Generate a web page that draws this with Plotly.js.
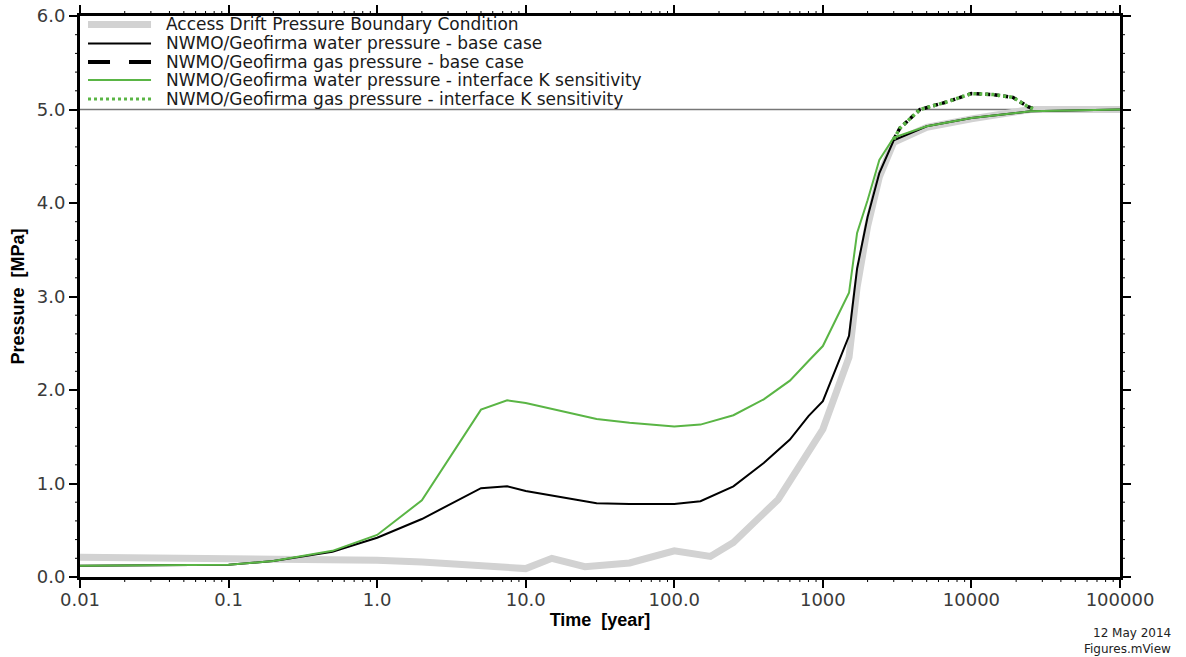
<!DOCTYPE html>
<html>
<head>
<meta charset="utf-8">
<script src="https://cdn.plot.ly/plotly-3.0.1.min.js"></script>
<style>html,body{margin:0;padding:0;background:#fff;}#chart{width:1186px;height:657px;}</style>
</head>
<body>
<div id="chart"></div>
<script>
// ---- data ----
var seriesNames = [
  "Access Drift Pressure Boundary Condition",
  "NWMO/Geofirma water pressure - base case",
  "NWMO/Geofirma gas pressure - base case",
  "NWMO/Geofirma water pressure - interface K sensitivity",
  "NWMO/Geofirma gas pressure - interface K sensitivity"
];
var tBoundary = [0.01, 0.1, 1, 2, 5, 10, 15, 25, 50, 100, 175, 250, 500, 1000, 1500, 1700, 2000, 2400, 3000, 5000, 10000, 25000, 100000];
var pBoundary = [0.21, 0.20, 0.18, 0.16, 0.12, 0.09, 0.20, 0.11, 0.15, 0.28, 0.22, 0.37, 0.83, 1.58, 2.35, 3.10, 3.75, 4.28, 4.65, 4.81, 4.90, 5.00, 5.00];

var tWater = [0.01, 0.1, 0.2, 0.5, 1, 2, 5, 7.5, 10, 20, 30, 50, 100, 150, 250, 400, 600, 800, 1000, 1500, 1700, 2000, 2400, 3000, 5000, 10000, 25000, 100000];
var pWaterBase = [0.12, 0.13, 0.17, 0.27, 0.42, 0.62, 0.95, 0.97, 0.92, 0.84, 0.79, 0.78, 0.78, 0.81, 0.97, 1.22, 1.47, 1.72, 1.88, 2.58, 3.30, 3.85, 4.32, 4.67, 4.82, 4.91, 4.98, 5.00];
var pWaterInterface = [0.12, 0.13, 0.17, 0.28, 0.45, 0.82, 1.79, 1.89, 1.86, 1.75, 1.69, 1.65, 1.61, 1.63, 1.73, 1.90, 2.10, 2.31, 2.47, 3.04, 3.68, 4.03, 4.46, 4.70, 4.82, 4.91, 4.98, 5.00];

var tGas = [3000, 3300, 4500, 6800, 10000, 14000, 19000, 24000, 27000];
var pGasBase = [4.68, 4.80, 5.00, 5.08, 5.17, 5.16, 5.13, 5.03, 5.00];
var pGasInterface = [4.68, 4.80, 5.00, 5.08, 5.17, 5.16, 5.13, 5.03, 5.00];

var xTickVals = [0.01, 0.1, 1, 10, 100, 1000, 10000, 100000];
var xTickText = ["0.01", "0.1", "1.0", "10.0", "100.0", "1000", "10000", "100000"];
var referencePressure = 5.0;

// ---- styling ----
var FONT = "Arial, 'Liberation Sans', sans-serif";
var WIDE = "'DejaVu Sans', Verdana, sans-serif";
var GRAY = "#d2d2d2", BLACK = "#000000", GREEN = "#5ab545";

var traces = [
  {x: tBoundary, y: pBoundary, name: seriesNames[0], mode: "lines", line: {color: GRAY, width: 7}},
  {x: tWater, y: pWaterBase, name: seriesNames[1], mode: "lines", line: {color: BLACK, width: 2}},
  {x: tGas, y: pGasBase, name: seriesNames[2], mode: "lines", line: {color: BLACK, width: 3.5, dash: "5px,4px"}},
  {x: tWater, y: pWaterInterface, name: seriesNames[3], mode: "lines", line: {color: GREEN, width: 2}},
  {x: tGas, y: pGasInterface, name: seriesNames[4], mode: "lines", line: {color: GREEN, width: 3.5, dash: "3px,3px"}}
];

var shapes = [
  {type: "line", xref: "paper", yref: "y", x0: 0, x1: 1, y0: referencePressure, y1: referencePressure,
   line: {color: "#777777", width: 1.5}, layer: "below"}
];

// minor tick marks (2..9 in each decade on x, every 0.2 on y), on all four sides
var tickLine = {color: "#000", width: 1};
for (var d = -2; d < 5; d++) {
  for (var m = 2; m <= 9; m++) {
    var v = m * Math.pow(10, d);
    shapes.push({type: "line", xref: "x", yref: "paper", ysizemode: "pixel", yanchor: 0, x0: v, x1: v, y0: -1, y1: -5, line: tickLine});
    shapes.push({type: "line", xref: "x", yref: "paper", ysizemode: "pixel", yanchor: 1, x0: v, x1: v, y0: 1, y1: 5, line: tickLine});
  }
}
for (var k = 1; k < 30; k++) {
  if (k % 5 === 0) continue;
  var yv = k * 0.2;
  shapes.push({type: "line", xref: "paper", yref: "y", xsizemode: "pixel", xanchor: 0, x0: -1, x1: -5, y0: yv, y1: yv, line: tickLine});
  shapes.push({type: "line", xref: "paper", yref: "y", xsizemode: "pixel", xanchor: 1, x0: 1, x1: 5, y0: yv, y1: yv, line: tickLine});
}

// manual legend (lines + text) so that row spacing matches
var legendRowsY = [0.985, 0.951, 0.918, 0.886, 0.852];
var legendStyles = [
  {color: GRAY, width: 7},
  {color: BLACK, width: 2},
  {color: BLACK, width: 4, dash: "22px,19px"},
  {color: GREEN, width: 2},
  {color: GREEN, width: 3, dash: "3px,3px"}
];
var annotations = [];
for (var i = 0; i < seriesNames.length; i++) {
  shapes.push({type: "line", xref: "paper", yref: "paper", x0: 0.0077, x1: 0.0683,
    y0: legendRowsY[i], y1: legendRowsY[i], line: legendStyles[i]});
  annotations.push({xref: "paper", yref: "paper", x: 0.0805, y: legendRowsY[i], xanchor: "left", yanchor: "middle",
    text: seriesNames[i], showarrow: false, font: {family: WIDE, size: 17, color: "#1a1a1a"}});
}
annotations.push({xref: "paper", yref: "paper", x: 1.0505, y: -0.1000, xanchor: "right", yanchor: "middle",
  text: "12 May 2014", showarrow: false, font: {family: WIDE, size: 12, color: "#222"}});
annotations.push({xref: "paper", yref: "paper", x: 1.0505, y: -0.1290, xanchor: "right", yanchor: "middle",
  text: "Figures.mView", showarrow: false, font: {family: WIDE, size: 12, color: "#222"}});

var layout = {
  width: 1186, height: 657,
  margin: {l: 80, r: 66, t: 16, b: 80},
  paper_bgcolor: "#ffffff", plot_bgcolor: "#ffffff",
  showlegend: false,
  font: {family: FONT, color: "#333"},
  xaxis: {
    type: "log", range: [-2, 5],
    tickmode: "array", tickvals: xTickVals, ticktext: xTickText,
    ticks: "outside", ticklen: 8, tickwidth: 2, tickcolor: "#000",
    showline: true, linecolor: "#000", linewidth: 3, mirror: "allticks",
    showgrid: false, zeroline: false, ticklabelstandoff: -4,
    tickfont: {family: WIDE, size: 18, color: "#3a3a3a"},
    title: {text: "<b>Time  [year]</b>", font: {family: FONT, size: 18, color: "#000"}, standoff: 5}
  },
  yaxis: {
    range: [0, 6], dtick: 1, tick0: 0, tickformat: ".1f",
    ticks: "outside", ticklen: 8, tickwidth: 2, tickcolor: "#000",
    showline: true, linecolor: "#000", linewidth: 3, mirror: "allticks",
    showgrid: false, zeroline: false,
    tickfont: {family: WIDE, size: 18, color: "#3a3a3a"},
    title: {text: "<b>Pressure  [MPa]</b>", font: {family: FONT, size: 18, color: "#000"}, standoff: 8}
  },
  shapes: shapes,
  annotations: annotations
};

Plotly.newPlot("chart", traces, layout, {staticPlot: true, displayModeBar: false});
</script>
</body>
</html>
